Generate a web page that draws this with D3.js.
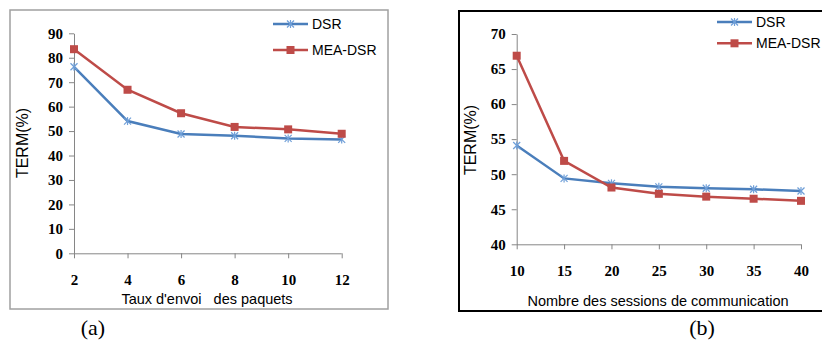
<!DOCTYPE html>
<html>
<head>
<meta charset="utf-8">
<script src="https://cdn.jsdelivr.net/npm/d3@7"></script>
<style>
  body { margin: 0; background: #fff; }
  svg { display: block; }
  .tick text { font-family: "Liberation Serif", serif; font-weight: bold; font-size: 15px; fill: #000; }
  .axis path, .axis line { stroke: #868686; }
</style>
</head>
<body>
<div id="chart"></div>
<script>
// panel (a)
const ratesA = [2, 4, 6, 8, 10, 12];
const dsrA = [76.3, 54.1, 48.8, 48.1, 47.0, 46.6];
const meaA = [83.5, 66.9, 57.3, 51.7, 50.7, 48.9];
const yTicksA = [0, 10, 20, 30, 40, 50, 60, 70, 80, 90];

// panel (b)
const sessionsB = [10, 15, 20, 25, 30, 35, 40];
const dsrB = [54.1, 49.4, 48.7, 48.2, 48.0, 47.85, 47.6];
const meaB = [66.9, 51.9, 48.1, 47.2, 46.8, 46.5, 46.2];
const yTicksB = [40, 45, 50, 55, 60, 65, 70];

const seriesNames = ['DSR', 'MEA-DSR'];
const blue = '#4a7ebb', red = '#be4b48';

const svg = d3.select('#chart').append('svg')
  .attr('width', 822)
  .attr('height', 345);

function drawPanel(o) {
  // frame
  svg.append('rect')
    .attr('x', o.frame[0]).attr('y', o.frame[1])
    .attr('width', o.frame[2]).attr('height', o.frame[3])
    .attr('fill', 'none')
    .attr('stroke', o.frameColor)
    .attr('stroke-width', o.frameWidth);

  const x = d3.scaleLinear().domain(o.xDomain).range([o.left, o.right]);
  const y = d3.scaleLinear().domain(o.yDomain).range([o.bottom, o.top]);

  const xAxis = svg.append('g')
    .attr('class', 'axis')
    .attr('transform', `translate(0,${o.bottom})`)
    .call(d3.axisBottom(x).tickValues(o.xs).tickSize(5).tickPadding(o.xPad).tickSizeOuter(0));
  xAxis.select('.domain').attr('d', `M${o.left},0.5H${o.right}`);

  svg.append('g')
    .attr('class', 'axis')
    .attr('transform', `translate(${o.left},0)`)
    .call(d3.axisLeft(y).tickValues(o.yTicks).tickSize(5).tickPadding(6).tickSizeOuter(0));

  const line = d3.line().x((d, i) => x(o.xs[i])).y((d) => y(d));

  // DSR
  svg.append('path')
    .datum(o.dsr)
    .attr('d', line)
    .attr('fill', 'none')
    .attr('stroke', blue)
    .attr('stroke-width', 2.5);
  o.dsr.forEach((v, i) => star(x(o.xs[i]), y(v)));

  // MEA-DSR
  svg.append('path')
    .datum(o.mea)
    .attr('d', line)
    .attr('fill', 'none')
    .attr('stroke', red)
    .attr('stroke-width', 2.5);
  o.mea.forEach((v, i) => square(x(o.xs[i]), y(v)));

  // axis titles
  svg.append('text')
    .attr('x', o.xTitle[0]).attr('y', o.xTitle[1])
    .attr('text-anchor', 'middle')
    .style('white-space', 'pre')
    .style('font-family', 'Liberation Sans, Arial, sans-serif')
    .style('font-size', '14.5px')
    .text(o.xLabel);

  svg.append('text')
    .attr('transform', `translate(${o.yTitle[0]},${o.yTitle[1]}) rotate(-90)`)
    .attr('text-anchor', 'middle')
    .style('font-family', 'Liberation Sans, Arial, sans-serif')
    .style('font-size', '16px')
    .text('TERM(%)');

  // legend
  seriesNames.forEach((name, i) => {
    const ly = o.legend[1] + i * o.legendGap;
    const c = i === 0 ? blue : red;
    svg.append('line')
      .attr('x1', o.legend[0]).attr('x2', o.legend[0] + 35)
      .attr('y1', ly).attr('y2', ly)
      .attr('stroke', c).attr('stroke-width', 2.5);
    if (i === 0) star(o.legend[0] + 17.5, ly); else square(o.legend[0] + 17.5, ly);
    svg.append('text')
      .attr('x', o.legend[0] + 39).attr('y', ly + 5)
      .style('font-family', 'Liberation Sans, Arial, sans-serif')
      .style('font-size', '14px')
      .text(name);
  });

  // caption
  svg.append('text')
    .attr('x', o.caption[0]).attr('y', o.caption[1])
    .attr('text-anchor', 'middle')
    .style('font-family', 'Liberation Serif, Times New Roman, serif')
    .style('font-size', '22px')
    .text(o.captionText);
}

function star(cx, cy) {
  const r = 3.5;
  const g = svg.append('g').attr('stroke', '#6f9fd8').attr('stroke-width', 1.2);
  g.append('line').attr('x1', cx - r).attr('x2', cx + r).attr('y1', cy - r).attr('y2', cy + r);
  g.append('line').attr('x1', cx - r).attr('x2', cx + r).attr('y1', cy + r).attr('y2', cy - r);
  g.append('line').attr('x1', cx).attr('x2', cx).attr('y1', cy - r - 0.5).attr('y2', cy + r + 0.5);
}

function square(cx, cy) {
  svg.append('rect')
    .attr('x', cx - 4).attr('y', cy - 4)
    .attr('width', 8).attr('height', 8)
    .attr('fill', red);
}

drawPanel({
  frame: [10, 10, 378, 299], frameColor: '#a0a0a0', frameWidth: 1.5,
  xDomain: [2, 12], yDomain: [0, 90],
  left: 74, right: 341.7, top: 33.3, bottom: 253.3,
  xs: ratesA, dsr: dsrA, mea: meaA, yTicks: yTicksA, xPad: 16,
  xLabel: "Taux d'envoi   des paquets", xTitle: [207, 304],
  yTitle: [28, 143],
  legend: [273, 24], legendGap: 26,
  caption: [93, 335], captionText: '(a)'
});

drawPanel({
  frame: [459, 11, 380, 300], frameColor: '#000', frameWidth: 2,
  xDomain: [10, 40], yDomain: [40, 70],
  left: 516.7, right: 801, top: 34, bottom: 244.3,
  xs: sessionsB, dsr: dsrB, mea: meaB, yTicks: yTicksB, xPad: 16,
  xLabel: 'Nombre des sessions de communication', xTitle: [658, 306],
  yTitle: [476, 140],
  legend: [717, 22], legendGap: 21.3,
  caption: [702, 335], captionText: '(b)'
});
</script>
</body>
</html>
